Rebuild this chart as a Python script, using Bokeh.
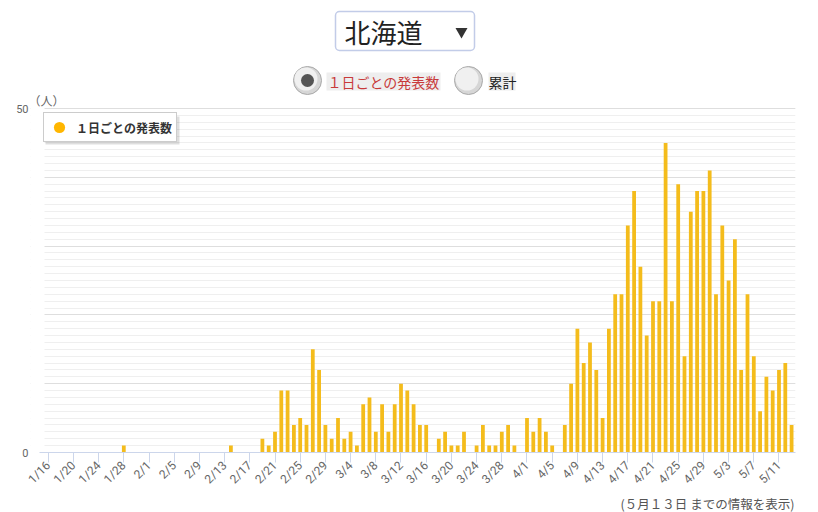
import math
import pandas as pd
from bokeh.plotting import figure
from bokeh.models import (ColumnDataSource, Range1d, FixedTicker, BoxAnnotation,
                          Label, Legend, LegendItem)
from bokeh.layouts import column
from bokeh.embed import file_html
from bokeh.resources import INLINE
from bokeh.core.properties import value

FONT = "Noto Sans CJK JP"
NUM_FONT = "Roboto"

# ---- texts ----
prefecture = "北海道"
series_name = "１日ごとの発表数"
cumulative_name = "累計"
y_unit = "（人）"
note = "(５月１３日 までの情報を表示)"

# ---- data (daily announced cases, from 2020-01-16) ----
start_date = "2020-01-16"
jan_counts = [0, 0, 0, 0, 0, 0, 0, 0, 0, 0, 0, 0, 1, 0, 0, 0]
feb_counts = [0, 0, 0, 0, 0, 0, 0, 0, 0, 0, 0, 0, 0, 1, 0, 0, 0, 0,
              2, 1, 3, 9, 9, 4, 5, 4, 15, 12, 4]
mar_counts = [2, 5, 2, 3, 1, 7, 8, 3, 7, 3, 7, 10, 9, 7, 4, 4, 0, 2, 3, 1,
              1, 3, 0, 1, 4, 1, 1, 3, 4, 1, 0]
apr_counts = [5, 3, 5, 3, 1, 0, 4, 10, 18, 13, 16, 12, 5, 18, 23, 23, 33, 38,
              27, 17, 22, 22, 45, 22, 39, 14, 35, 38, 38, 41]
may_counts = [23, 33, 25, 31, 12, 23, 14, 6, 11, 9, 12, 13, 4]

counts = jan_counts + feb_counts + mar_counts + apr_counts + may_counts
dates = pd.date_range(start_date, periods=len(counts), freq="D")
date_labels = [f"{d.month}/{d.day}" for d in dates]
xs = list(range(len(counts)))
tick_idx = xs[::4]
tick_labels = {i: date_labels[i] for i in tick_idx}

src = ColumnDataSource(dict(x=xs, count=counts, date=date_labels))

# ---- main figure: frame spans from the top of the page down to the x axis ----
W, H_MAIN = 818, 494
FL, FR, FB = 30, 795, 452          # frame left / right / bottom in page pixels
p = figure(width=W, height=H_MAIN,
           x_range=Range1d(-2.81, 118.62), y_range=Range1d(0, 65.698),
           extra_x_ranges={"px": Range1d(FL, FR)},
           extra_y_ranges={"py": Range1d(FB, 0)},
           output_backend="svg", toolbar_location=None,
           min_border_left=FL, min_border_right=W - FR, min_border_top=0,
           min_border_bottom=H_MAIN - FB)
p.outline_line_color = None
p.background_fill_color = "white"
p.border_fill_color = "white"

# grid
yg = p.ygrid[0]
yg.ticker = FixedTicker(ticks=[0, 10, 20, 30, 40, 50], minor_ticks=list(range(0, 51)))
yg.grid_line_color = "#dedede"
yg.minor_grid_line_color = "#efefef"
p.xgrid.visible = False

# bars
p.vbar(x="x", top="count", width=0.6, source=src, fill_color="#F4BC1C", line_color=None)

# x axis
xa = p.xaxis[0]
xa.bounds = (-1.34, 118.62)
xa.ticker = FixedTicker(ticks=tick_idx)
xa.major_label_overrides = tick_labels
xa.major_label_orientation = math.pi / 4
xa.axis_line_color = "#ccd6eb"
xa.major_tick_line_color = "#ccd6eb"
xa.major_tick_in = 0
xa.major_tick_out = 10
xa.minor_tick_line_color = None
xa.major_label_text_color = "#666666"
xa.major_label_text_font = NUM_FONT
xa.major_label_text_font_size = "12px"
xa.major_label_standoff = 1

# y axis
ya = p.yaxis[0]
ya.ticker = FixedTicker(ticks=[0, 50])
ya.axis_line_color = None
ya.major_tick_line_color = None
ya.major_tick_in = 0
ya.major_tick_out = 0
ya.minor_tick_line_color = None
ya.major_label_text_color = "#666666"
ya.major_label_text_font = NUM_FONT
ya.major_label_text_font_size = "11px"
ya.major_label_standoff = 2

# keep the grid lines clear of the left margin strip (as in the original)
p.add_layout(BoxAnnotation(left=FL, right=44, top=100, bottom=451, level="guide",
                           x_range_name="px", y_range_name="py",
                           fill_color="white", fill_alpha=1, line_color=None))

# ---- header: select box + radio buttons (page-pixel coordinates) ----
p.add_layout(BoxAnnotation(left=335, right=474, top=11, bottom=50, level="underlay",
                           x_range_name="px", y_range_name="py",
                           fill_color="white", fill_alpha=1,
                           line_color="#3457b2", line_width=1.5, border_radius=4))
p.text(x=[344], y=[31], text=[prefecture], text_font=value(FONT),
       text_font_size="26px", text_baseline="middle", text_color="#222222",
       x_range_name="px", y_range_name="py")
p.scatter(x=[461], y=[31], marker="inverted_triangle", size=12,
          fill_color="#333333", line_color=None, x_range_name="px", y_range_name="py")

p.circle(x=[307, 468], y=[80, 80], radius=14, fill_color="#d6d6d6",
         line_color="#a8a8a8", line_width=1, x_range_name="px", y_range_name="py")
p.circle(x=[305.5, 466.5], y=[78.5, 78.5], radius=11.5, fill_color="#f0f0f0",
         line_color=None, x_range_name="px", y_range_name="py")
p.circle(x=[307], y=[80], radius=6.5, fill_color="#555555", line_color=None,
         x_range_name="px", y_range_name="py")
p.quad(left=[326, 488], right=[440, 515], top=[72, 72], bottom=[90, 90],
       fill_color="#eeeeee", line_color=None, x_range_name="px", y_range_name="py")
p.text(x=[327], y=[81], text=[series_name], text_font=value(FONT),
       text_font_size="14px", text_baseline="middle", text_color="#c83a3a",
       x_range_name="px", y_range_name="py")
p.text(x=[488], y=[81], text=[cumulative_name], text_font=value(FONT),
       text_font_size="14px", text_baseline="middle", text_color="#222222",
       x_range_name="px", y_range_name="py")

# unit label
p.add_layout(Label(x=28, y=100, text=y_unit, text_align="left", text_baseline="middle",
                   x_range_name="px", y_range_name="py",
                   text_font=FONT, text_font_size="12px", text_color="#666666"))

# legend shadow + legend
p.add_layout(BoxAnnotation(left=45, right=179, top=116, bottom=144,
                           x_range_name="px", y_range_name="py",
                           fill_color="black", fill_alpha=0.13, line_color=None))
dot = p.scatter(x=[-100], y=[-100], marker="circle", size=11,
                fill_color="#FFB600", line_color=None)
legend = Legend(items=[LegendItem(label=series_name, renderers=[dot])],
                location=(13, 310), margin=0, padding=0, spacing=0,
                glyph_width=30, glyph_height=28, label_height=28, label_width=100,
                label_standoff=2,
                label_text_font=FONT, label_text_font_size="12px",
                label_text_font_style="bold", label_text_color="#333333",
                border_line_color="#999999", border_line_width=1,
                background_fill_color="white", background_fill_alpha=1)
p.add_layout(legend)

# ---- footer note ----
f = figure(width=W, height=512 - H_MAIN, x_range=Range1d(0, W), y_range=Range1d(512, H_MAIN),
           output_backend="svg", toolbar_location=None,
           x_axis_location=None, y_axis_location=None, min_border=0)
f.grid.visible = False
f.outline_line_color = None
f.background_fill_color = "white"
f.border_fill_color = "white"
f.text(x=[631], y=[502.5], text=[note], text_font=value(FONT), text_font_size="12.5px",
       text_align="left", text_baseline="middle", text_color="#555555")

layout = column(p, f, spacing=0)
open("out.html", "w").write(file_html(layout, INLINE))
